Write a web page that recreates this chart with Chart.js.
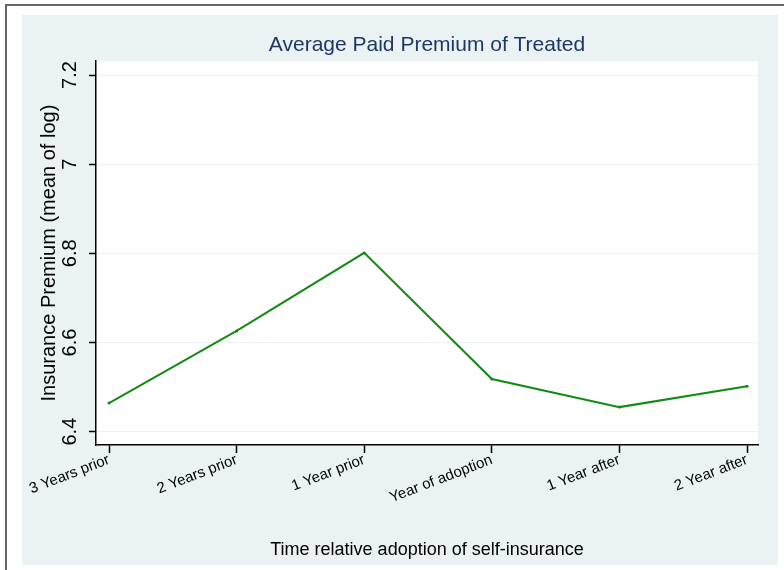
<!DOCTYPE html>
<html>
<head>
<meta charset="utf-8">
<script src="https://cdn.jsdelivr.net/npm/chart.js@4.4.1/dist/chart.umd.min.js"></script>
<style>
  html, body { margin: 0; padding: 0; background: #fff; }
  #wrap { width: 784px; height: 570px; }
</style>
</head>
<body>
<div id="wrap"><canvas id="premiumChart"></canvas></div>
<script>
const categories = ["3 Years prior", "2 Years prior", "1 Year prior", "Year of adoption", "1 Year after", "2 Year after"];
const categoryPos = [-3, -2, -1, 0, 1, 2];
const premium = [6.464, 6.626, 6.801, 6.518, 6.455, 6.502];
const yTicks = [6.4, 6.6, 6.8, 7, 7.2];

const BG = "#eaf2f3";
const GREEN = "#138a13";

// outer frame, light background, white plot region
const framePlugin = {
    id: "frame",
    beforeDraw(chart) {
        const ctx = chart.ctx;
        const a = chart.chartArea;
        ctx.save();
        ctx.fillStyle = "#fff";
        ctx.fillRect(0, 0, chart.width, chart.height);
        ctx.fillStyle = BG;
        ctx.fillRect(22, 15, 756, 550);
        ctx.strokeStyle = "#666";
        ctx.lineWidth = 2;
        ctx.strokeRect(6, 5, 900, 700);
        ctx.fillStyle = "#fff";
        ctx.fillRect(a.left, a.top, a.right - a.left, a.bottom - a.top);
        ctx.restore();
    }
};

new Chart(document.getElementById("premiumChart"), {
    type: "line",
    data: {
        datasets: [{
            data: categoryPos.map((x, i) => ({ x: x, y: premium[i] })),
            borderColor: GREEN,
            backgroundColor: GREEN,
            borderWidth: 2,
            pointRadius: 1.5,
            pointBorderWidth: 0,
            tension: 0
        }]
    },
    options: {
        responsive: true,
        maintainAspectRatio: false,
        animation: false,
        devicePixelRatio: 1,
        layout: { padding: { left: 22, right: 26, top: 15, bottom: 0 } },
        plugins: {
            legend: { display: false },
            tooltip: { enabled: false },
            title: {
                display: true,
                fullSize: false,
                text: "Average Paid Premium of Treated",
                color: "#1e3764",
                font: { family: "Liberation Sans", size: 21, weight: "normal" },
                padding: { top: 18, bottom: 3 }
            }
        },
        scales: {
            x: {
                type: "linear",
                min: -3.102,
                max: 2.086,
                afterBuildTicks: s => { s.ticks = categoryPos.map(v => ({ value: v })); },
                afterFit: s => { s.height = 125; },
                ticks: {
                    autoSkip: false,
                    minRotation: 21,
                    maxRotation: 21,
                    padding: -2,
                    color: "#000",
                    font: { family: "Liberation Sans", size: 15 },
                    callback: v => categories[categoryPos.indexOf(v)]
                },
                grid: { drawOnChartArea: false, tickLength: 8, tickColor: "#000", tickWidth: 1.5 },
                border: { color: "#000", width: 1.5 },
                title: {
                    display: true,
                    text: "Time relative adoption of self-insurance",
                    color: "#000",
                    font: { family: "Liberation Sans", size: 18 },
                    padding: { top: 0, bottom: 9 }
                }
            },
            y: {
                min: 6.370,
                max: 7.231,
                afterBuildTicks: s => { s.ticks = yTicks.map(v => ({ value: v })); },
                afterFit: s => { s.width = 74; },
                ticks: {
                    autoSkip: false,
                    minRotation: 90,
                    maxRotation: 90,
                    crossAlign: "center",
                    padding: 5,
                    color: "#000",
                    font: { family: "Liberation Sans", size: 20 },
                    callback: v => String(v)
                },
                grid: { color: BG, lineWidth: 1, tickLength: 7, tickColor: "#000", tickWidth: 1.5 },
                border: { color: "#000", width: 1.5 },
                title: {
                    display: true,
                    text: "Insurance Premium (mean of log)",
                    color: "#000",
                    font: { family: "Liberation Sans", size: 20 },
                    padding: { top: 15, bottom: 0 }
                }
            }
        }
    },
    plugins: [framePlugin]
});
</script>
</body>
</html>
